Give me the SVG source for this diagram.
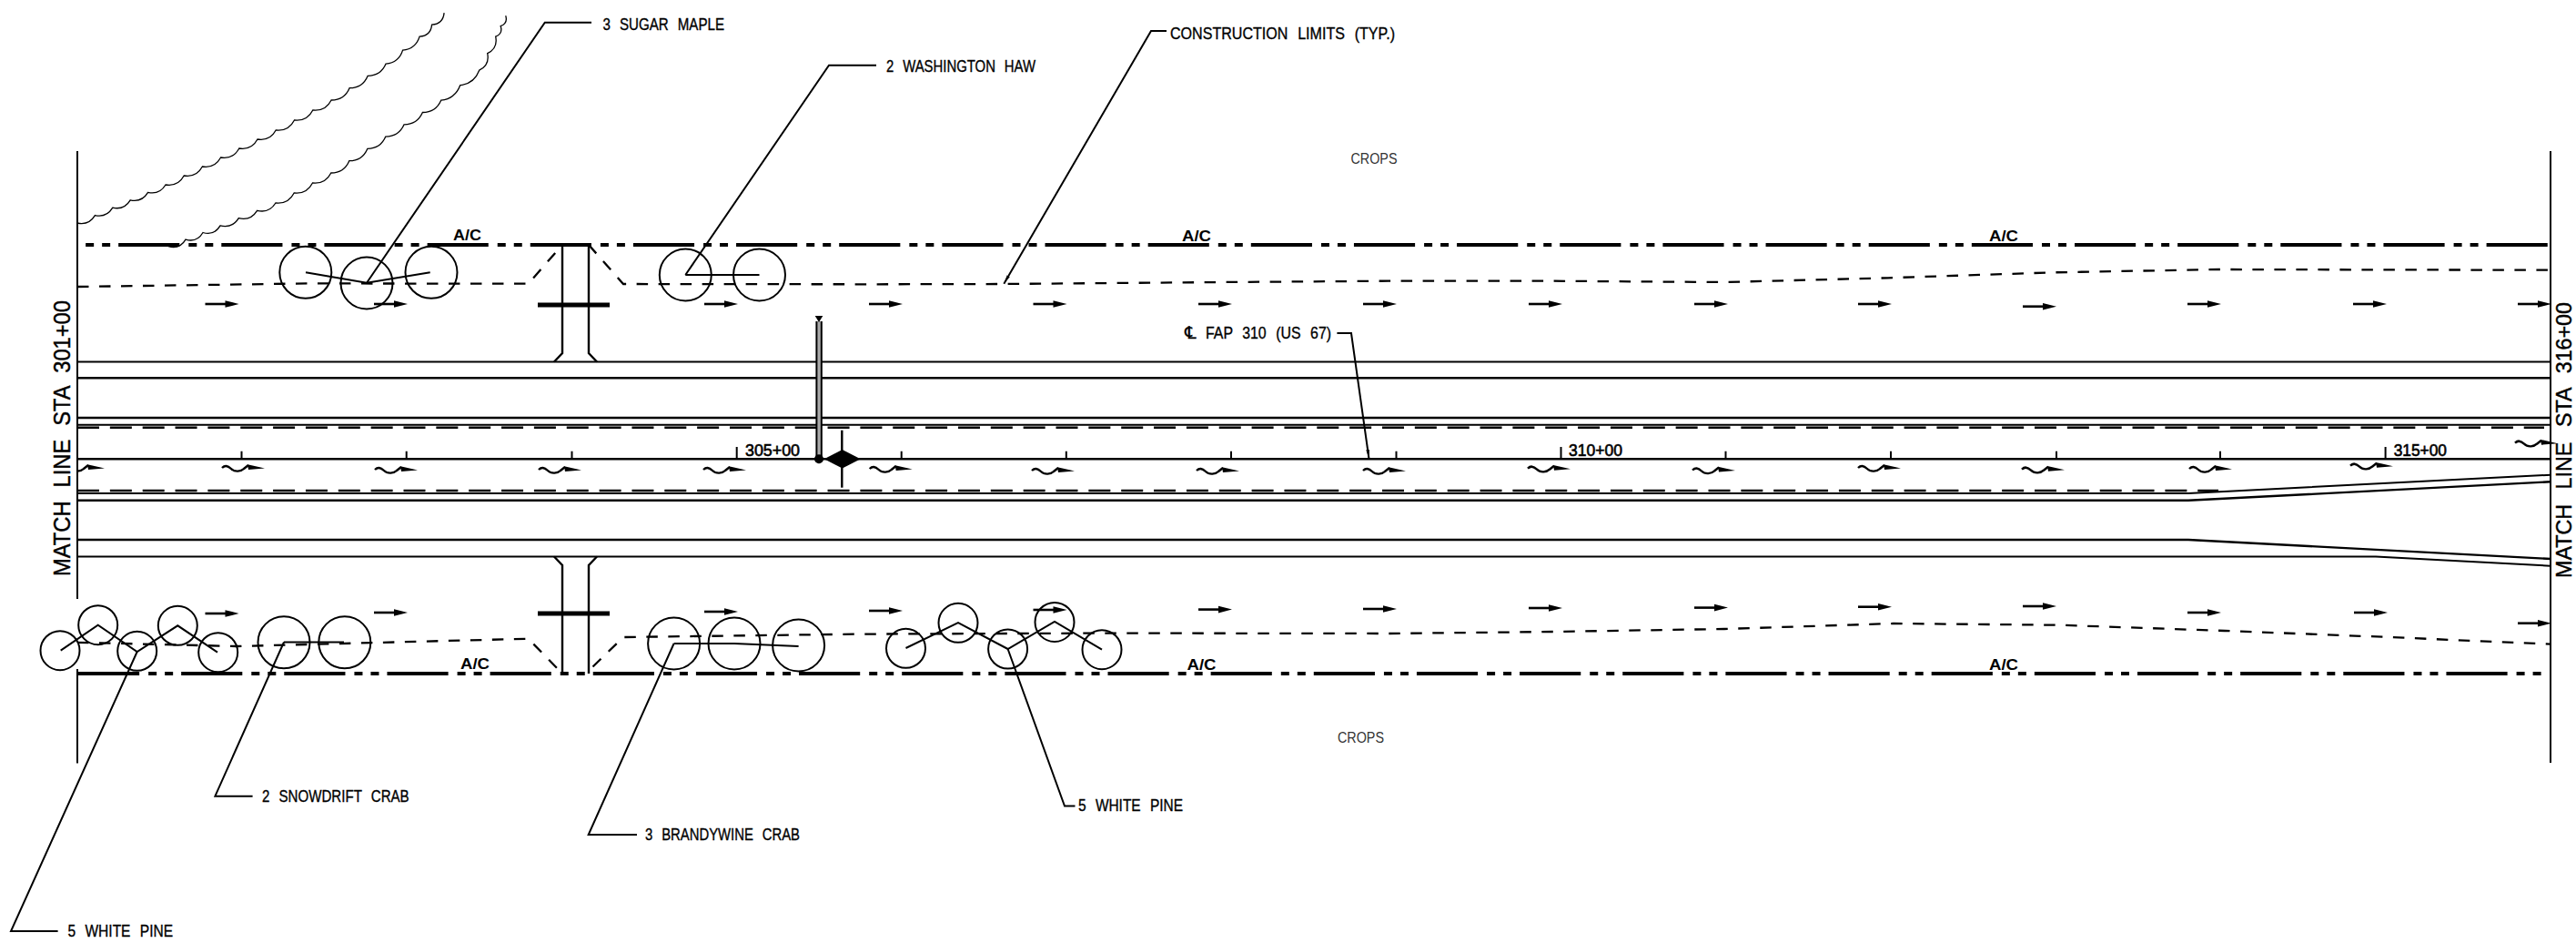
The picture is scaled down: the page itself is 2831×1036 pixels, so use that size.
<svg xmlns="http://www.w3.org/2000/svg" xmlns:xlink="http://www.w3.org/1999/xlink" width="2831" height="1036" viewBox="0 0 2831 1036">
<style>
.l{fill:none;stroke:#000;stroke-width:2}
.r{fill:none;stroke:#000;stroke-width:2.4}
.dr{fill:none;stroke:#000;stroke-width:2.6;stroke-dasharray:24 11.85}
.dc{fill:none;stroke:#000;stroke-width:2.3;stroke-dasharray:12.5 11.5}
.dd{fill:none;stroke:#000;stroke-width:4;stroke-dasharray:67.15 10 9 9 9 9}
.c{fill:none;stroke:#000;stroke-width:2}
.s{fill:none;stroke:#000;stroke-width:1.3}
.t{font-family:"Liberation Sans",sans-serif;font-size:18px;fill:#000;stroke:#000;stroke-width:.35;word-spacing:7px}
.cr{font-family:"Liberation Sans",sans-serif;font-size:17px;fill:#333}
.st{font-family:"Liberation Sans",sans-serif;font-size:17.5px;fill:#000;stroke:#000;stroke-width:.6}
.ac{font-family:"Liberation Sans",sans-serif;font-size:17px;fill:#000;font-weight:bold}
.ml{font-family:"Liberation Sans",sans-serif;font-size:25.5px;fill:#000;stroke:#000;stroke-width:.4;word-spacing:9px}
.mr{font-family:"Liberation Sans",sans-serif;font-size:23px;fill:#000;stroke:#000;stroke-width:.4;word-spacing:10px}
</style>
<defs>
<marker id="tip" markerUnits="userSpaceOnUse" markerWidth="12" markerHeight="6" refX="10" refY="3" orient="auto"><path d="M0 1.2L10 3L0 4.8Z" fill="#000"/></marker>
<g id="ar"><path d="M0 0H24" fill="none" stroke="#000" stroke-width="2.6"/><path d="M22 -3.8L37 0L22 3.8Z" fill="#000"/></g>
<g id="wa"><path d="M0 0C3 -3 6 -3 10 1C14 5 21 4 24 1L29 -3" fill="none" stroke="#000" stroke-width="2.4"/><path d="M28 -3.8L47 0.6L29 2Z" fill="#000"/></g>
<clipPath id="lc"><rect x="85" y="480" width="60" height="60"/></clipPath>
</defs>

<g id="tree-lines">
<path class="s" d="M85 245q12.7 2.8 19.4 -8.4q12.7 2.8 19.4 -8.4q12.7 2.8 19.4 -8.4q12.7 2.8 19.4 -8.4q12.7 2.8 19.4 -8.4q13.6 2.2 20.2 -10q13.6 2.2 20.2 -10q13.6 2.2 20.2 -10q13.6 2.2 20.2 -10q13.6 2.2 20.2 -10q13.6 2.2 20.2 -10q14 1.5 20.3 -11q14 1.5 20.3 -11q14 1.5 20.3 -11q14.4 -.1 20 -13.3q14.4 -.1 20 -13.3q14.4 -.1 20 -13.3q14.2 -1.3 18.5 -15q14.2 -1.3 18.5 -15q12.3 -.7 13.5 -13q12.3 -.7 13.5 -13"/>
<path class="s" d="M185 270.7q12.5 3.6 19 -7.6q12.5 3.6 19 -7.6q12.5 3.6 19 -7.6q13.2 3.2 20.3 -8.3q13.2 3.2 20.3 -8.3q13.2 3.2 20.3 -8.3q14 1.5 20.3 -11q14 1.5 20.3 -11q14 1.5 20.3 -11q14.4 -.1 20 -13.3q14.4 -.1 20 -13.3q14.4 -.1 20 -13.3q14.5 -.1 20.3 -13.3q14.5 -.1 20.3 -13.3q14.5 -.1 20.3 -13.3q15.5 -1.9 21 -16.5q15.5 -1.9 21 -16.5q11.7 -5.7 9 -18.5q11.7 -5.7 9 -18.5q8.2 -3.2 5.5 -11.5q8.2 -3.2 5.5 -11.5"/>
</g>

<g id="roadway">
<path class="l" d="M85 166V658M85 735V838.5M2803 166V838"/>
<path class="dd" stroke-dashoffset="77" d="M94 269H2803"/>
<path class="dd" d="M86 740H2794"/>
<path class="l" d="M85 397.5H2803"/>
<path class="r" d="M85 415.3H2803"/>
<path class="r" d="M85 459H2803"/>
<path class="l" d="M85 466.7H2803"/>
<path class="dr" d="M85 469.8H2796"/>
<path class="r" d="M85 504.3H2803"/>
<path class="dr" d="M85 539H2438"/>
<path class="l" d="M85 542H2405L2803 521.7"/>
<path class="r" d="M85 549.8H2405L2803 529.3"/>
<path class="r" d="M85 593H2405L2803 614"/>
<path class="l" d="M85 611.4H2611L2803 621.7"/>
<path class="dc" d="M85 315L340 311.4L580.6 311.7L618 269M647 269L685 312L955 312.3L1101.5 312L1344 310L1526 308.7L1707 308.7L1895 310L2075 305.3L2257 299.3L2438.6 296L2803 296.7"/>
<path class="dc" d="M85 705.8L260 710L580.6 701.7L618 740M651.5 732.5L685 700L945 696.6L1223 695.6L1526 696L1707 694L1895 691L2081 685L2263 686.7L2445 693L2626 700L2803 707.7"/>
<g id="ticks">
<path class="l" d="M265.5 504V495.7M446.7 504V495.7M628.5 504V495.7M809.7 504V491M990.7 504V495.7M1171.8 504V495.7M1353 504V495.7M1534.5 504V495.7M1715.5 504V491M1896.5 504V495.7M2078 504V495.7M2260 504V495.7M2440 504V495.7M2621.6 504V491"/>
</g>
</g>

<g id="bridge-top">
<path class="r" d="M618 269V388L609 397.5M647 269V388L656 397.5M618 269H647"/>
<path d="M591 335H670" fill="none" stroke="#000" stroke-width="5"/>
</g>
<g id="bridge-bottom">
<path class="r" d="M609 611.5L618 621V740M656 611.5L647 621V740"/>
<path d="M591 674H670" fill="none" stroke="#000" stroke-width="5"/>
</g>

<g id="sign-post">
<rect x="898" y="353" width="4.5" height="151" fill="#aaa"/>
<path class="l" d="M897.4 353V504M902.8 353V504"/>
<path d="M895.7 347H904.3L900 354Z" fill="#000"/>
<circle cx="900" cy="504.3" r="5" fill="#000"/>
</g>
<g id="marker-diamond">
<path d="M905.7 504.3L925.7 494L945.7 504.3L925.7 514.5Z" fill="#000"/>
<path d="M925.3 472.7V535.7" fill="none" stroke="#000" stroke-width="2.4"/>
</g>

<g id="arrows-upper">
<use href="#ar" x="225.5" y="334"/><use href="#ar" x="411" y="334"/><use href="#ar" x="774" y="334"/><use href="#ar" x="955" y="334"/><use href="#ar" x="1135.5" y="334"/><use href="#ar" x="1317" y="334"/><use href="#ar" x="1498" y="334"/><use href="#ar" x="1680" y="334"/><use href="#ar" x="1862" y="334"/><use href="#ar" x="2042" y="334"/><use href="#ar" x="2223" y="336.7"/><use href="#ar" x="2404" y="334"/><use href="#ar" x="2586" y="334"/><use href="#ar" x="2767" y="334"/>
</g>
<g id="arrows-lower">
<use href="#ar" x="225.5" y="674"/><use href="#ar" x="411" y="673"/><use href="#ar" x="774" y="672"/><use href="#ar" x="955" y="671"/><use href="#ar" x="1135.5" y="670"/><use href="#ar" x="1317" y="669.6"/><use href="#ar" x="1498" y="669"/><use href="#ar" x="1680" y="668"/><use href="#ar" x="1862" y="667.6"/><use href="#ar" x="2042" y="666.7"/><use href="#ar" x="2223" y="666"/><use href="#ar" x="2404" y="673"/><use href="#ar" x="2587" y="673"/><use href="#ar" x="2767" y="684.7"/>
</g>
<g id="arrows-wavy">
<g clip-path="url(#lc)"><use href="#wa" x="68" y="514"/></g>
<use href="#wa" x="244" y="514"/><use href="#wa" x="412" y="516"/><use href="#wa" x="592" y="516"/><use href="#wa" x="773" y="516"/><use href="#wa" x="955.7" y="515"/><use href="#wa" x="1134" y="517"/><use href="#wa" x="1315" y="517"/><use href="#wa" x="1498" y="517"/><use href="#wa" x="1679" y="514.7"/><use href="#wa" x="1860" y="516.5"/><use href="#wa" x="2042" y="514"/><use href="#wa" x="2222" y="515.7"/><use href="#wa" x="2406" y="515"/><use href="#wa" x="2583" y="511.7"/><use href="#wa" x="2764" y="486.7"/>
</g>

<g id="connectors">
<path class="l" d="M650 24.7H598.8L403 310.7"/>
<path class="l" d="M963 71.7H911L753.3 302"/>
<path class="l" marker-end="url(#tip)" d="M1282 34H1265L1103.3 311.7"/>
<path class="l" marker-end="url(#tip)" d="M1469.4 366H1485L1504.5 504"/>
<path class="l" d="M150.7 716L12 1023H63.6"/>
<path class="l" d="M312 705.5L236.4 874.7H277.6"/>
<path class="l" d="M740.6 707L646.7 917H700"/>
<path class="l" d="M1107.6 713L1170 885.6H1181.5"/>
</g>

<g id="tree-sugar-maple">
<circle class="c" cx="335.8" cy="299.3" r="28.5"/><circle class="c" cx="403" cy="311" r="28.5"/><circle class="c" cx="474" cy="299.3" r="28.5"/>
<path class="l" d="M336 299.3L403 310.7L472.7 299.3"/>
<text class="t" x="662.4" y="32.7" textLength="133.6" lengthAdjust="spacingAndGlyphs">3 SUGAR MAPLE</text>
</g>
<g id="tree-washington-haw">
<circle class="c" cx="753.3" cy="302" r="28.5"/><circle class="c" cx="834.5" cy="302" r="28.5"/>
<path class="l" d="M753.3 302H834.5"/>
<text class="t" x="974" y="78.7" textLength="164" lengthAdjust="spacingAndGlyphs">2 WASHINGTON HAW</text>
</g>
<g id="tree-white-pine-west">
<circle class="c" cx="66" cy="714.7" r="21.5"/><circle class="c" cx="107.7" cy="686.7" r="21.5"/><circle class="c" cx="150.7" cy="715.3" r="21.5"/><circle class="c" cx="195.3" cy="687.3" r="21.5"/><circle class="c" cx="239.7" cy="716.7" r="21.5"/>
<path class="l" d="M66.7 714.7L107.7 686.7L150.7 716L195.3 687.3L239 716.7"/>
<text class="t" x="74.5" y="1028.5" textLength="115.5" lengthAdjust="spacingAndGlyphs">5 WHITE PINE</text>
</g>
<g id="tree-snowdrift-crab">
<circle class="c" cx="312" cy="705.8" r="28.5"/><circle class="c" cx="378.8" cy="705.8" r="28.5"/>
<path class="l" d="M312 705.5H378"/>
<text class="t" x="288" y="881" textLength="161.7" lengthAdjust="spacingAndGlyphs">2 SNOWDRIFT CRAB</text>
</g>
<g id="tree-brandywine-crab">
<circle class="c" cx="740.6" cy="707" r="28.5"/><circle class="c" cx="807" cy="707" r="28.5"/><circle class="c" cx="877.6" cy="709" r="28.5"/>
<path class="l" d="M740.6 707H807L877.6 710"/>
<text class="t" x="709" y="923" textLength="170" lengthAdjust="spacingAndGlyphs">3 BRANDYWINE CRAB</text>
</g>
<g id="tree-white-pine-east">
<circle class="c" cx="995.5" cy="712.3" r="21.5"/><circle class="c" cx="1053" cy="684.3" r="21.5"/><circle class="c" cx="1107.6" cy="713" r="21.5"/><circle class="c" cx="1159" cy="683.4" r="21.5"/><circle class="c" cx="1211" cy="713.7" r="21.5"/>
<path class="l" d="M995.5 712L1053 684L1107.6 713L1159 683L1211 713.7"/>
<text class="t" x="1185" y="890.8" textLength="115" lengthAdjust="spacingAndGlyphs">5 WHITE PINE</text>
</g>

<g id="labels">
<text class="t" x="1286" y="42.7" textLength="247" lengthAdjust="spacingAndGlyphs">CONSTRUCTION LIMITS (TYP.)</text>
<text class="t" y="371.7"><tspan x="1302" style="font-family:'DejaVu Sans',sans-serif;font-size:19px">℄</tspan> <tspan x="1325" textLength="138" lengthAdjust="spacingAndGlyphs">FAP 310 (US 67)</tspan></text>
<text class="cr" x="1484.5" y="180" textLength="51" lengthAdjust="spacingAndGlyphs">CROPS</text>
<text class="cr" x="1470" y="815.5" textLength="51" lengthAdjust="spacingAndGlyphs">CROPS</text>
<text class="st" x="819" y="501.3" textLength="60" lengthAdjust="spacingAndGlyphs">305+00</text>
<text class="st" x="1724" y="501.3" textLength="59" lengthAdjust="spacingAndGlyphs">310+00</text>
<text class="st" x="2630.7" y="501.3" textLength="58.3" lengthAdjust="spacingAndGlyphs">315+00</text>
<text class="ac" x="498" y="264" textLength="31" lengthAdjust="spacingAndGlyphs">A/C</text>
<text class="ac" x="1299" y="265" textLength="32" lengthAdjust="spacingAndGlyphs">A/C</text>
<text class="ac" x="2186" y="265" textLength="32" lengthAdjust="spacingAndGlyphs">A/C</text>
<text class="ac" x="506" y="735" textLength="32" lengthAdjust="spacingAndGlyphs">A/C</text>
<text class="ac" x="1304.5" y="736" textLength="32" lengthAdjust="spacingAndGlyphs">A/C</text>
<text class="ac" x="2186" y="735.7" textLength="32" lengthAdjust="spacingAndGlyphs">A/C</text>
<text class="ml" transform="translate(76.7 633) rotate(-90)" textLength="303" lengthAdjust="spacingAndGlyphs">MATCH LINE STA 301+00</text>
<text class="mr" transform="translate(2826 635) rotate(-90)" textLength="303" lengthAdjust="spacingAndGlyphs">MATCH LINE STA 316+00</text>
</g>
</svg>
